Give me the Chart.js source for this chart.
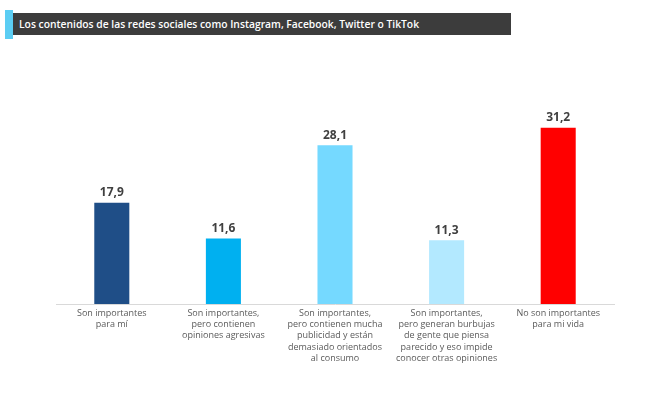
<!DOCTYPE html>
<html>
<head>
<meta charset="utf-8">
<script src="https://cdn.jsdelivr.net/npm/chart.js@4"></script>
<style>
  html, body { margin: 0; padding: 0; background: #fff; }
  #wrap { position: relative; width: 651px; height: 395px; }
  #accent { position: absolute; left: 5px; top: 10px; width: 8px; height: 29px; background: #5bcdf3; }
  #title { position: absolute; left: 13px; top: 13px; width: 498px; height: 22px; background: #3c3c3c;
           color: #fff; font: 600 10.3px "Open Sans", sans-serif; line-height: 22px; padding-left: 6px; box-sizing: border-box; }
  canvas { position: absolute; left: 0; top: 0; }
</style>
</head>
<body>
<div id="wrap">
  <canvas id="chart" width="651" height="395"></canvas>
  <div id="accent"></div>
  <div id="title">Los contenidos de las redes sociales como Instagram, Facebook, Twitter o TikTok</div>
</div>
<script>
const categories = [
  ["Son importantes", "para mí"],
  ["Son importantes,", "pero contienen", "opiniones agresivas"],
  ["Son importantes,", "pero contienen mucha", "publicidad y están", "demasiado orientados", "al consumo"],
  ["Son importantes,", "pero generan burbujas", "de gente que piensa", "parecido y eso impide", "conocer otras opiniones"],
  ["No son importantes", "para mi vida"]
];
const values = [17.9, 11.6, 28.1, 11.3, 31.2];
const barColors = ["#1f4e87", "#00b0f0", "#75d9ff", "#b3e9ff", "#ff0000"];

const valueLabels = {
  id: "valueLabels",
  afterDatasetsDraw(chart) {
    const ctx = chart.ctx;
    const meta = chart.getDatasetMeta(0);
    ctx.save();
    ctx.font = "bold 12px 'Open Sans', sans-serif";
    ctx.fillStyle = "#404040";
    ctx.textAlign = "center";
    ctx.textBaseline = "middle";
    meta.data.forEach((bar, i) => {
      ctx.fillText(values[i].toFixed(1).replace(".", ","), bar.x, bar.y - 10);
    });
    ctx.restore();
  }
};

new Chart(document.getElementById("chart"), {
  type: "bar",
  data: {
    labels: categories,
    datasets: [{
      data: values,
      backgroundColor: barColors,
      barPercentage: 1,
      categoryPercentage: 0.314
    }]
  },
  options: {
    responsive: false,
    animation: false,
    layout: { padding: { left: 56, right: 37, top: 78, bottom: 0 } },
    plugins: { legend: { display: false }, tooltip: { enabled: false } },
    scales: {
      x: {
        grid: { display: false, drawTicks: false },
        border: { display: true, color: "#d9d9d9", width: 1 },
        ticks: {
          color: "#5a5a5a",
          font: { family: "'Open Sans', sans-serif", size: 9, lineHeight: 1.24 },
          maxRotation: 0,
          autoSkip: false,
          padding: 4
        },
        afterFit(scale) { scale.height = 91; }
      },
      y: { display: false, min: 0, max: 40 }
    }
  },
  plugins: [valueLabels]
});
</script>
</body>
</html>
